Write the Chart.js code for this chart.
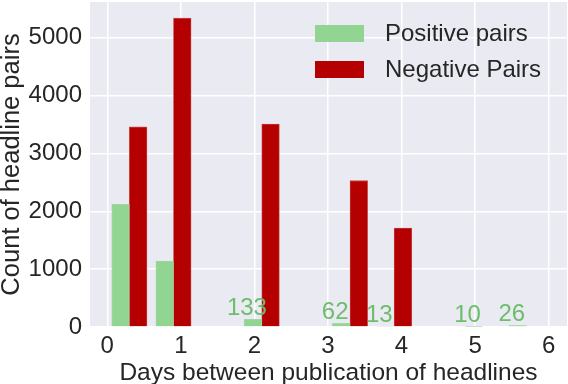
<!DOCTYPE html>
<html>
<head>
<meta charset="utf-8">
<script src="https://cdn.jsdelivr.net/npm/chart.js@4.4.1/dist/chart.umd.min.js"></script>
<style>
  html, body { margin: 0; padding: 0; background: #fff; }
  #wrap { width: 568px; height: 384px; }
</style>
</head>
<body>
<div id="wrap"><canvas id="myChart"></canvas></div>
<script>
// histogram bins (width 0.6 day), two series side by side
var binCenters = [0.3, 0.9, 1.5, 2.1, 2.7, 3.3, 3.9, 4.5, 5.1, 5.7];
var positivePairs = [2120, 1140, 0, 133, 0, 62, 13, 0, 10, 26];
var negativePairs = [3460, 5340, 0, 3510, 0, 2530, 1710, 0, 0, 0];
var positiveLabels = ['', '', '', '133', '', '62', '13', '', '10', '26'];
var xTicks = [0, 1, 2, 3, 4, 5, 6];
var yTicks = [0, 1000, 2000, 3000, 4000, 5000];

var FONT = "'Liberation Sans', Arial, sans-serif";
var GREEN = '#92d492';
var RED = '#b40000';

function points(vals) {
    return vals.map(function (v, i) { return { x: binCenters[i], y: v }; });
}

// grey seaborn-like background behind the plot
var bgPlugin = {
    id: 'bg',
    beforeDraw: function (chart) {
        var a = chart.chartArea, c = chart.ctx;
        c.save();
        c.fillStyle = '#eaeaf2';
        c.fillRect(a.left, a.top, a.right - a.left, a.bottom - a.top);
        c.restore();
    }
};

// numbers above the small green bars
var labelPlugin = {
    id: 'barLabels',
    afterDatasetsDraw: function (chart) {
        var c = chart.ctx;
        var meta = chart.getDatasetMeta(0);
        c.save();
        c.font = '24px ' + FONT;
        c.fillStyle = '#6dbd6d';
        c.textAlign = 'center';
        c.textBaseline = 'alphabetic';
        meta.data.forEach(function (bar, i) {
            if (!positiveLabels[i]) return;
            c.fillText(positiveLabels[i], bar.x - 6, bar.y - 4);
        });
        c.restore();
    }
};

// legend in the upper right of the plot
var legendPlugin = {
    id: 'boxLegend',
    afterDraw: function (chart) {
        var c = chart.ctx, a = chart.chartArea;
        var x = a.right - 252, y = a.top + 23;
        c.save();
        c.font = '24px ' + FONT;
        c.textBaseline = 'middle';
        chart.data.datasets.forEach(function (ds, i) {
            var yy = y + i * 36;
            c.fillStyle = ds.backgroundColor;
            c.fillRect(x, yy, 49, 17);
            c.fillStyle = '#262626';
            c.fillText(ds.label, x + 70, yy + 9);
        });
        c.restore();
    }
};

var ctx = document.getElementById('myChart').getContext('2d');
var chart = new Chart(ctx, {
    type: 'bar',
    data: {
        datasets: [{
            label: 'Positive pairs',
            backgroundColor: GREEN,
            borderColor: '#a3d9a3',
            borderWidth: 0.8,
            data: points(positivePairs)
        }, {
            label: 'Negative Pairs',
            backgroundColor: RED,
            borderColor: '#c94a4a',
            borderWidth: 0.8,
            data: points(negativePairs)
        }]
    },
    options: {
        responsive: true,
        maintainAspectRatio: false,
        animation: false,
        layout: { padding: { top: 2, right: 1, left: 0, bottom: 0 } },
        datasets: { bar: { barThickness: 17.6 } },
        plugins: { legend: { display: false }, tooltip: { enabled: false } },
        scales: {
            x: {
                type: 'linear',
                offset: false,
                min: -0.235,
                max: 6.25,
                afterBuildTicks: function (s) { s.ticks = xTicks.map(function (v) { return { value: v }; }); },
                afterFit: function (s) { s.height = 57; s.paddingLeft = 0; s.paddingRight = 0; },
                grid: { color: '#ffffff', lineWidth: 1.5, drawTicks: false, offset: false },
                border: { display: false },
                ticks: { color: '#262626', font: { family: FONT, size: 24 }, padding: 5 },
                title: {
                    display: true,
                    text: 'Days between publication of headlines',
                    color: '#262626',
                    font: { family: FONT, size: 24.5, lineHeight: 0.9 },
                    padding: { top: 0, bottom: 0 }
                }
            },
            y: {
                min: 0,
                max: 5620,
                afterBuildTicks: function (s) { s.ticks = yTicks.map(function (v) { return { value: v }; }); },
                afterFit: function (s) { s.width = 90; s.paddingTop = 0; s.paddingBottom = 0; },
                grid: { color: '#ffffff', lineWidth: 1.5, drawTicks: false },
                border: { display: false },
                ticks: {
                    color: '#262626',
                    font: { family: FONT, size: 24 },
                    padding: 8,
                    callback: function (v) { return String(v); }
                },
                title: {
                    display: true,
                    text: 'Count of headline pairs',
                    color: '#262626',
                    font: { family: FONT, size: 25.5, lineHeight: 0.9 },
                    padding: { top: 0, bottom: 0 }
                }
            }
        }
    },
    plugins: [bgPlugin, labelPlugin, legendPlugin]
});
</script>
</body>
</html>
